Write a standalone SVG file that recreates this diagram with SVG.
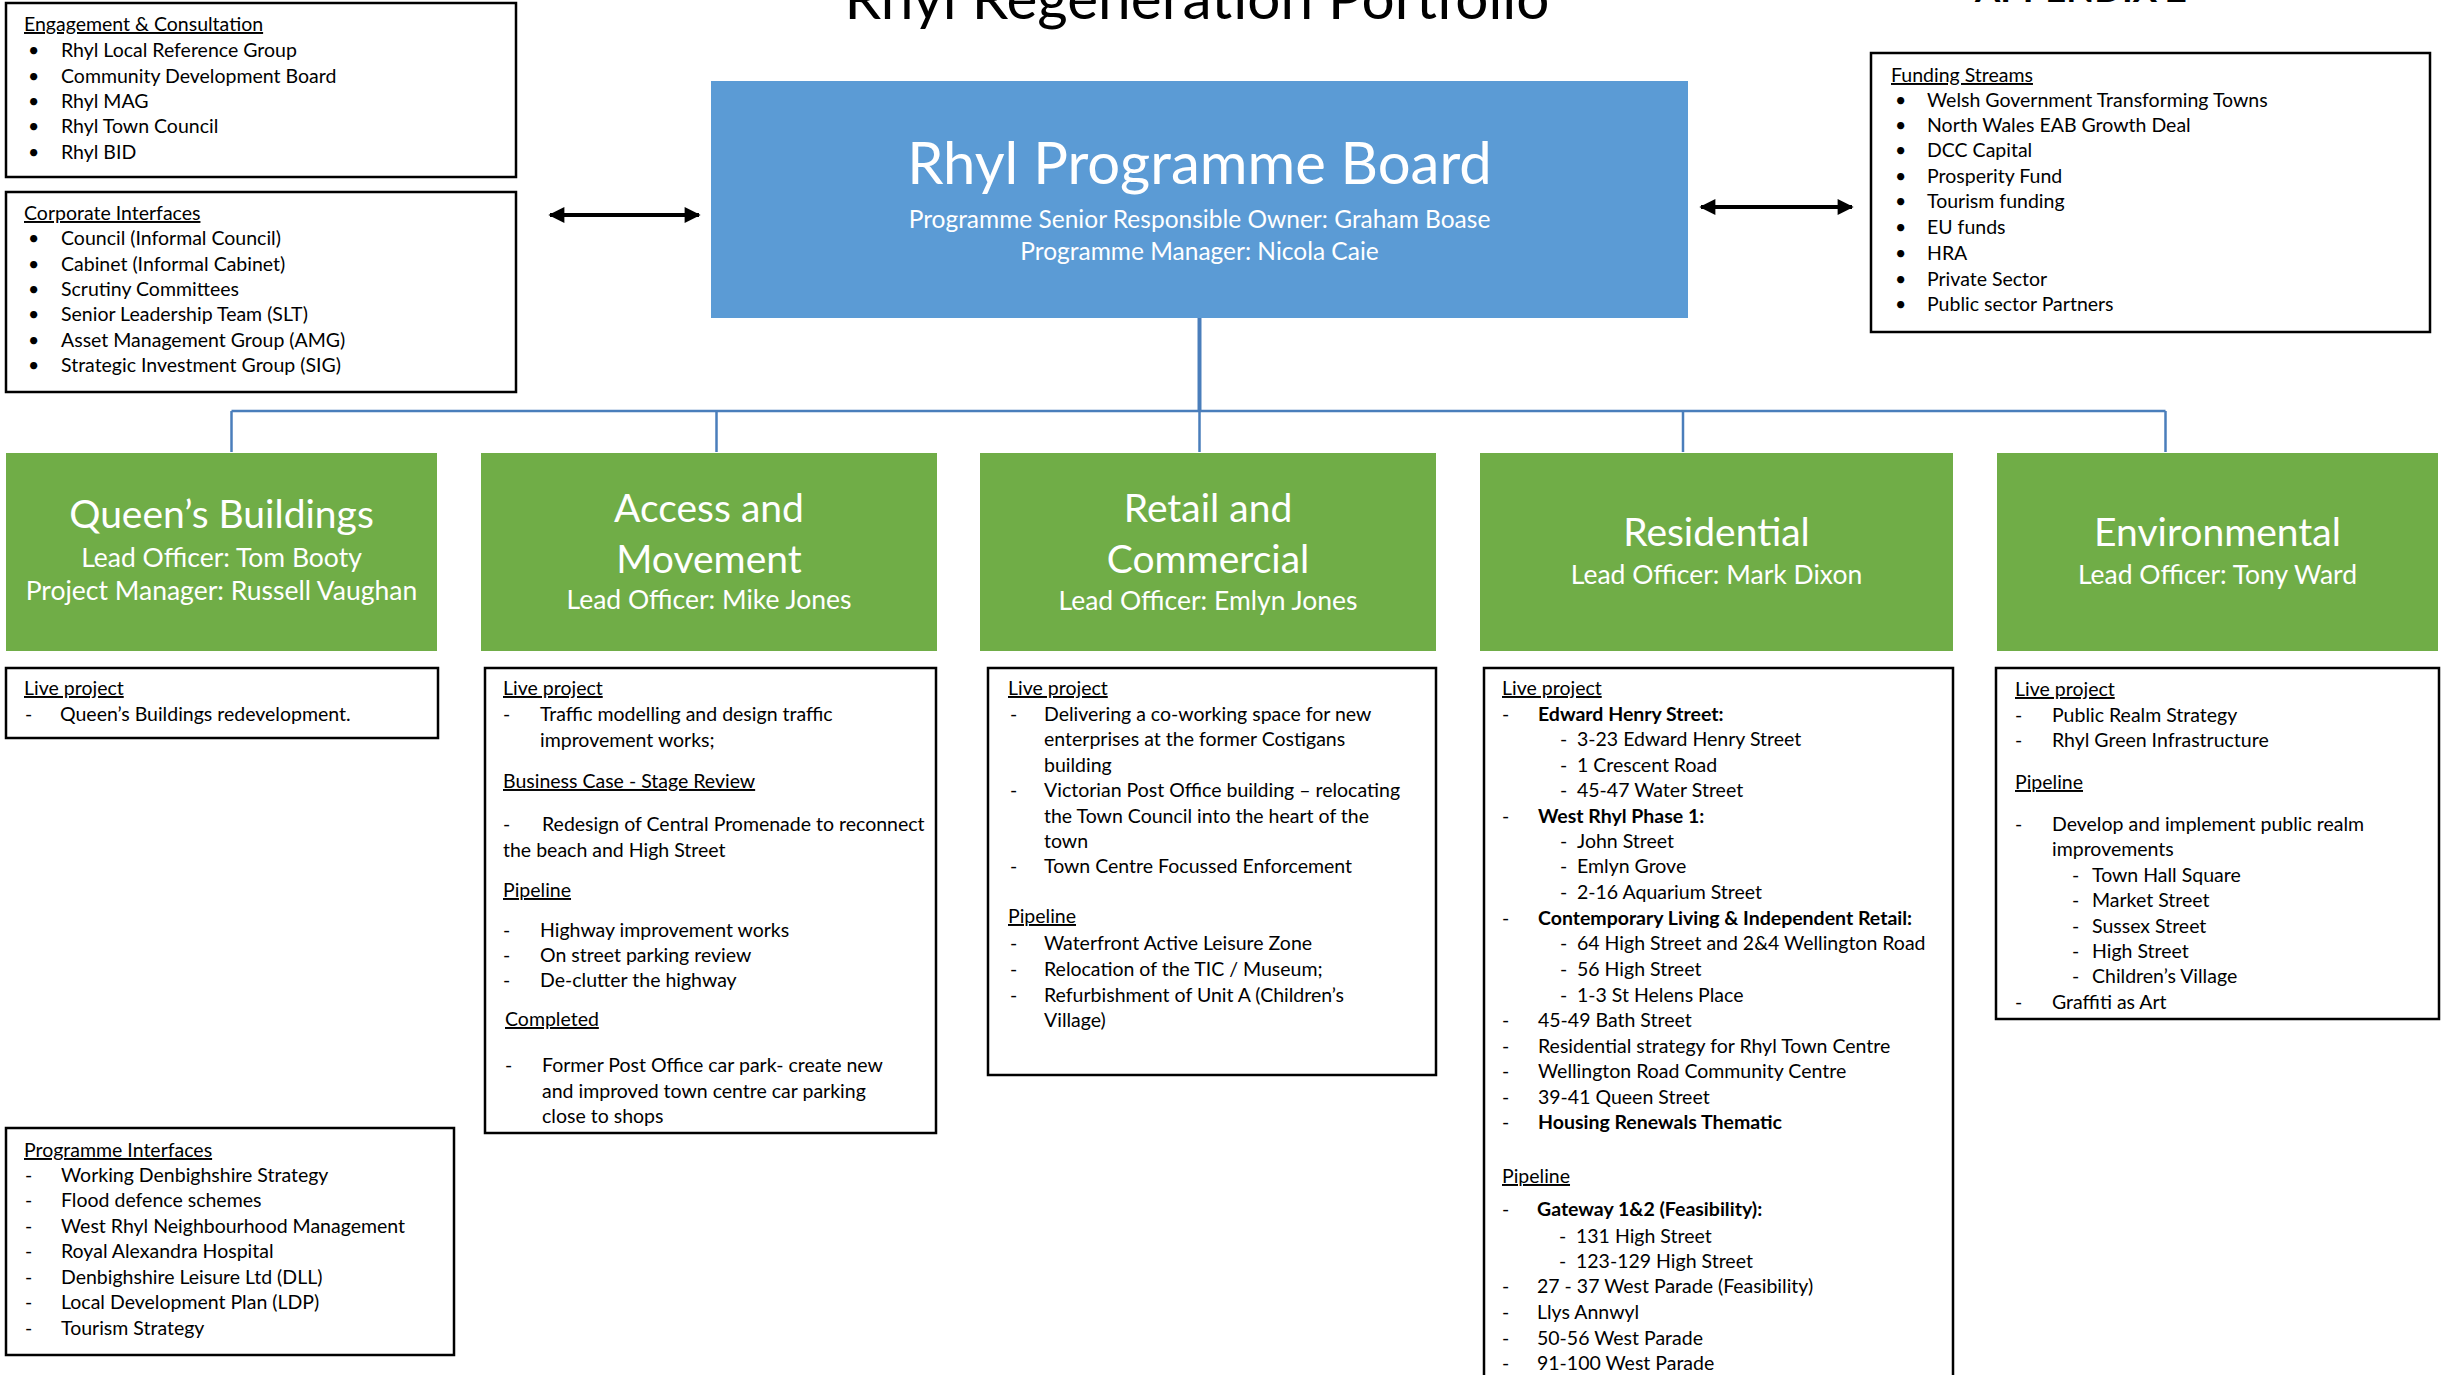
<svg xmlns="http://www.w3.org/2000/svg" width="2446" height="1375" viewBox="0 0 2446 1375">
<defs>
<style>
.t{font-family:Lato,"Open Sans","Liberation Sans",sans-serif;font-size:19.5px;fill:#000}
.b{font-weight:bold}
.u{text-decoration:underline}
.w{font-family:Lato,"Open Sans","Liberation Sans",sans-serif;fill:#fff;text-anchor:middle}
.h1{font-size:39px}
.h2{font-size:26.5px}
.box{fill:#fff;stroke:#000;stroke-width:2.5}
.green{fill:#70AD47}
.conn{stroke:#4A7EBB;stroke-width:2.5;fill:none}
.arr{stroke:#000;stroke-width:4;fill:none}
</style>
<marker id="ah" viewBox="0 0 10 10" refX="9" refY="5" markerWidth="18" markerHeight="16" markerUnits="userSpaceOnUse" orient="auto-start-reverse">
<path d="M0,0 L10,5 L0,10 Z" fill="#000"/>
</marker>
</defs>
<rect width="2446" height="1375" fill="#fff"/>

<text class="t" x="1197" y="19" text-anchor="middle" textLength="705" lengthAdjust="spacingAndGlyphs" style="font-size:58px">Rhyl Regeneration Portfolio</text>
<text class="t b" x="2081" y="2" text-anchor="middle" style="font-size:34px" textLength="212" lengthAdjust="spacingAndGlyphs">APPENDIX 2</text>

<g id="connectors">
<line class="arr" x1="550" y1="215" x2="699" y2="215" marker-start="url(#ah)" marker-end="url(#ah)"/>
<line class="arr" x1="1701" y1="207" x2="1852" y2="207" marker-start="url(#ah)" marker-end="url(#ah)"/>
<line class="conn" x1="1199.5" y1="318" x2="1199.5" y2="411" style="stroke-width:4"/>
<line class="conn" x1="231.5" y1="411" x2="2165.5" y2="411"/>
<line class="conn" x1="231.5" y1="411" x2="231.5" y2="452"/>
<line class="conn" x1="716.5" y1="411" x2="716.5" y2="452"/>
<line class="conn" x1="1199.5" y1="411" x2="1199.5" y2="452"/>
<line class="conn" x1="1683" y1="411" x2="1683" y2="452"/>
<line class="conn" x1="2165.5" y1="411" x2="2165.5" y2="452"/>
</g>

<g id="engagement">
<rect class="box" x="6" y="3" width="510" height="174"/>
<text class="t u" x="24" y="31">Engagement &amp; Consultation</text>
<text class="t" x="28" y="57">•</text><text class="t" x="61" y="57">Rhyl Local Reference Group</text>
<text class="t" x="28" y="83">•</text><text class="t" x="61" y="83">Community Development Board</text>
<text class="t" x="28" y="108">•</text><text class="t" x="61" y="108">Rhyl MAG</text>
<text class="t" x="28" y="133">•</text><text class="t" x="61" y="133">Rhyl Town Council</text>
<text class="t" x="28" y="159">•</text><text class="t" x="61" y="159">Rhyl BID</text>
</g>

<g id="corporate">
<rect class="box" x="6" y="192" width="510" height="200"/>
<text class="t u" x="24" y="220">Corporate Interfaces</text>
<text class="t" x="28" y="245">•</text><text class="t" x="61" y="245">Council (Informal Council)</text>
<text class="t" x="28" y="271">•</text><text class="t" x="61" y="271">Cabinet (Informal Cabinet)</text>
<text class="t" x="28" y="296">•</text><text class="t" x="61" y="296">Scrutiny Committees</text>
<text class="t" x="28" y="321">•</text><text class="t" x="61" y="321">Senior Leadership Team (SLT)</text>
<text class="t" x="28" y="347">•</text><text class="t" x="61" y="347">Asset Management Group (AMG)</text>
<text class="t" x="28" y="372">•</text><text class="t" x="61" y="372">Strategic Investment Group (SIG)</text>
</g>

<g id="funding">
<rect class="box" x="1871" y="53" width="559" height="279"/>
<text class="t u" x="1891" y="82">Funding Streams</text>
<text class="t" x="1895" y="107">•</text><text class="t" x="1927" y="107">Welsh Government Transforming Towns</text>
<text class="t" x="1895" y="132">•</text><text class="t" x="1927" y="132">North Wales EAB Growth Deal</text>
<text class="t" x="1895" y="157">•</text><text class="t" x="1927" y="157">DCC Capital</text>
<text class="t" x="1895" y="183">•</text><text class="t" x="1927" y="183">Prosperity Fund</text>
<text class="t" x="1895" y="208">•</text><text class="t" x="1927" y="208">Tourism funding</text>
<text class="t" x="1895" y="234">•</text><text class="t" x="1927" y="234">EU funds</text>
<text class="t" x="1895" y="260">•</text><text class="t" x="1927" y="260">HRA</text>
<text class="t" x="1895" y="286">•</text><text class="t" x="1927" y="286">Private Sector</text>
<text class="t" x="1895" y="311">•</text><text class="t" x="1927" y="311">Public sector Partners</text>
</g>

<g id="board">
<rect x="711" y="81" width="977" height="237" fill="#5B9BD5"/>
<text class="w" x="1199.5" y="184" style="font-size:58px">Rhyl Programme Board</text>
<text class="w" x="1199.5" y="228" style="font-size:24.5px">Programme Senior Responsible Owner: Graham Boase</text>
<text class="w" x="1199.5" y="260" style="font-size:24.5px">Programme Manager: Nicola Caie</text>
</g>

<g id="queens">
<rect class="green" x="6" y="453" width="431" height="198"/>
<text class="w h1" x="221.5" y="528">Queen’s Buildings</text>
<text class="w h2" x="221.5" y="567">Lead Officer: Tom Booty</text>
<text class="w h2" x="221.5" y="600">Project Manager: Russell Vaughan</text>
</g>

<g id="access">
<rect class="green" x="481" y="453" width="456" height="198"/>
<text class="w h1" x="709" y="522">Access and</text>
<text class="w h1" x="709" y="573">Movement</text>
<text class="w h2" x="709" y="609">Lead Officer: Mike Jones</text>
</g>

<g id="retail">
<rect class="green" x="980" y="453" width="456" height="198"/>
<text class="w h1" x="1208" y="522">Retail and</text>
<text class="w h1" x="1208" y="573">Commercial</text>
<text class="w h2" x="1208" y="610">Lead Officer: Emlyn Jones</text>
</g>

<g id="residential">
<rect class="green" x="1480" y="453" width="473" height="198"/>
<text class="w h1" x="1716.5" y="546">Residential</text>
<text class="w h2" x="1716.5" y="584">Lead Officer: Mark Dixon</text>
</g>

<g id="environmental">
<rect class="green" x="1997" y="453" width="441" height="198"/>
<text class="w h1" x="2217.5" y="546">Environmental</text>
<text class="w h2" x="2217.5" y="584">Lead Officer: Tony Ward</text>
</g>

<g id="queens-detail">
<rect class="box" x="6" y="668" width="432" height="70"/>
<text class="t u" x="24" y="695">Live project</text>
<text class="t" x="25" y="721">-</text><text class="t" x="60" y="721">Queen’s Buildings redevelopment.</text>
</g>

<g id="access-detail">
<rect class="box" x="485" y="668" width="451" height="465"/>
<text class="t u" x="503" y="695">Live project</text>
<text class="t" x="503" y="721">-</text><text class="t" x="540" y="721">Traffic modelling and design traffic</text>
<text class="t" x="540" y="747">improvement works;</text>
<text class="t u" x="503" y="788">Business Case - Stage Review</text>
<text class="t" x="503" y="831">-</text><text class="t" x="542" y="831">Redesign of Central Promenade to reconnect</text>
<text class="t" x="503" y="857">the beach and High Street</text>
<text class="t u" x="503" y="897">Pipeline</text>
<text class="t" x="503" y="937">-</text><text class="t" x="540" y="937">Highway improvement works</text>
<text class="t" x="503" y="962">-</text><text class="t" x="540" y="962">On street parking review</text>
<text class="t" x="503" y="987">-</text><text class="t" x="540" y="987">De-clutter the highway</text>
<text class="t u" x="505" y="1026">Completed</text>
<text class="t" x="505" y="1072">-</text><text class="t" x="542" y="1072">Former Post Office car park- create new</text>
<text class="t" x="542" y="1098">and improved town centre car parking</text>
<text class="t" x="542" y="1123">close to shops</text>
</g>

<g id="retail-detail">
<rect class="box" x="988" y="668" width="448" height="407"/>
<text class="t u" x="1008" y="695">Live project</text>
<text class="t" x="1010" y="721">-</text><text class="t" x="1044" y="721">Delivering a co-working space for new</text>
<text class="t" x="1044" y="746">enterprises at the former Costigans</text>
<text class="t" x="1044" y="772">building</text>
<text class="t" x="1010" y="797">-</text><text class="t" x="1044" y="797">Victorian Post Office building – relocating</text>
<text class="t" x="1044" y="823">the Town Council into the heart of the</text>
<text class="t" x="1044" y="848">town</text>
<text class="t" x="1010" y="873">-</text><text class="t" x="1044" y="873">Town Centre Focussed Enforcement</text>
<text class="t u" x="1008" y="923">Pipeline</text>
<text class="t" x="1010" y="950">-</text><text class="t" x="1044" y="950">Waterfront Active Leisure Zone</text>
<text class="t" x="1010" y="976">-</text><text class="t" x="1044" y="976">Relocation of the TIC / Museum;</text>
<text class="t" x="1010" y="1002">-</text><text class="t" x="1044" y="1002">Refurbishment of Unit A (Children’s</text>
<text class="t" x="1044" y="1027">Village)</text>
</g>

<g id="residential-detail">
<rect class="box" x="1484" y="668" width="469" height="720"/>
<text class="t u" x="1502" y="695">Live project</text>
<text class="t" x="1502" y="721">-</text><text class="t b" x="1538" y="721">Edward Henry Street:</text>
<text class="t" x="1560" y="746">-</text><text class="t" x="1577" y="746">3-23 Edward Henry Street</text>
<text class="t" x="1560" y="772">-</text><text class="t" x="1577" y="772">1 Crescent Road</text>
<text class="t" x="1560" y="797">-</text><text class="t" x="1577" y="797">45-47 Water Street</text>
<text class="t" x="1502" y="823">-</text><text class="t b" x="1538" y="823">West Rhyl Phase 1:</text>
<text class="t" x="1560" y="848">-</text><text class="t" x="1577" y="848">John Street</text>
<text class="t" x="1560" y="873">-</text><text class="t" x="1577" y="873">Emlyn Grove</text>
<text class="t" x="1560" y="899">-</text><text class="t" x="1577" y="899">2-16 Aquarium Street</text>
<text class="t" x="1502" y="925">-</text><text class="t b" x="1538" y="925">Contemporary Living &amp; Independent Retail:</text>
<text class="t" x="1560" y="950">-</text><text class="t" x="1577" y="950">64 High Street and 2&amp;4 Wellington Road</text>
<text class="t" x="1560" y="976">-</text><text class="t" x="1577" y="976">56 High Street</text>
<text class="t" x="1560" y="1002">-</text><text class="t" x="1577" y="1002">1-3 St Helens Place</text>
<text class="t" x="1502" y="1027">-</text><text class="t" x="1538" y="1027">45-49 Bath Street</text>
<text class="t" x="1502" y="1053">-</text><text class="t" x="1538" y="1053">Residential strategy for Rhyl Town Centre</text>
<text class="t" x="1502" y="1078">-</text><text class="t" x="1538" y="1078">Wellington Road Community Centre</text>
<text class="t" x="1502" y="1104">-</text><text class="t" x="1538" y="1104">39-41 Queen Street</text>
<text class="t" x="1502" y="1129">-</text><text class="t b" x="1538" y="1129">Housing Renewals Thematic</text>
<text class="t u" x="1502" y="1183">Pipeline</text>
<text class="t" x="1502" y="1216">-</text><text class="t b" x="1537" y="1216">Gateway 1&amp;2 (Feasibility):</text>
<text class="t" x="1559" y="1243">-</text><text class="t" x="1576" y="1243">131 High Street</text>
<text class="t" x="1559" y="1268">-</text><text class="t" x="1576" y="1268">123-129 High Street</text>
<text class="t" x="1502" y="1293">-</text><text class="t" x="1537" y="1293">27 - 37 West Parade (Feasibility)</text>
<text class="t" x="1502" y="1319">-</text><text class="t" x="1537" y="1319">Llys Annwyl</text>
<text class="t" x="1502" y="1345">-</text><text class="t" x="1537" y="1345">50-56 West Parade</text>
<text class="t" x="1502" y="1370">-</text><text class="t" x="1537" y="1370">91-100 West Parade</text>
</g>

<g id="environmental-detail">
<rect class="box" x="1996" y="668" width="443" height="351"/>
<text class="t u" x="2015" y="696">Live project</text>
<text class="t" x="2015" y="722">-</text><text class="t" x="2052" y="722">Public Realm Strategy</text>
<text class="t" x="2015" y="747">-</text><text class="t" x="2052" y="747">Rhyl Green Infrastructure</text>
<text class="t u" x="2015" y="789">Pipeline</text>
<text class="t" x="2015" y="831">-</text><text class="t" x="2052" y="831">Develop and implement public realm</text>
<text class="t" x="2052" y="856">improvements</text>
<text class="t" x="2072" y="882">-</text><text class="t" x="2092" y="882">Town Hall Square</text>
<text class="t" x="2072" y="907">-</text><text class="t" x="2092" y="907">Market Street</text>
<text class="t" x="2072" y="933">-</text><text class="t" x="2092" y="933">Sussex Street</text>
<text class="t" x="2072" y="958">-</text><text class="t" x="2092" y="958">High Street</text>
<text class="t" x="2072" y="983">-</text><text class="t" x="2092" y="983">Children’s Village</text>
<text class="t" x="2015" y="1009">-</text><text class="t" x="2052" y="1009">Graffiti as Art</text>
</g>

<g id="programme-interfaces">
<rect class="box" x="6" y="1128" width="448" height="227"/>
<text class="t u" x="24" y="1157">Programme Interfaces</text>
<text class="t" x="25" y="1182">-</text><text class="t" x="61" y="1182">Working Denbighshire Strategy</text>
<text class="t" x="25" y="1207">-</text><text class="t" x="61" y="1207">Flood defence schemes</text>
<text class="t" x="25" y="1233">-</text><text class="t" x="61" y="1233">West Rhyl Neighbourhood Management</text>
<text class="t" x="25" y="1258">-</text><text class="t" x="61" y="1258">Royal Alexandra Hospital</text>
<text class="t" x="25" y="1284">-</text><text class="t" x="61" y="1284">Denbighshire Leisure Ltd (DLL)</text>
<text class="t" x="25" y="1309">-</text><text class="t" x="61" y="1309">Local Development Plan (LDP)</text>
<text class="t" x="25" y="1335">-</text><text class="t" x="61" y="1335">Tourism Strategy</text>
</g>
</svg>
